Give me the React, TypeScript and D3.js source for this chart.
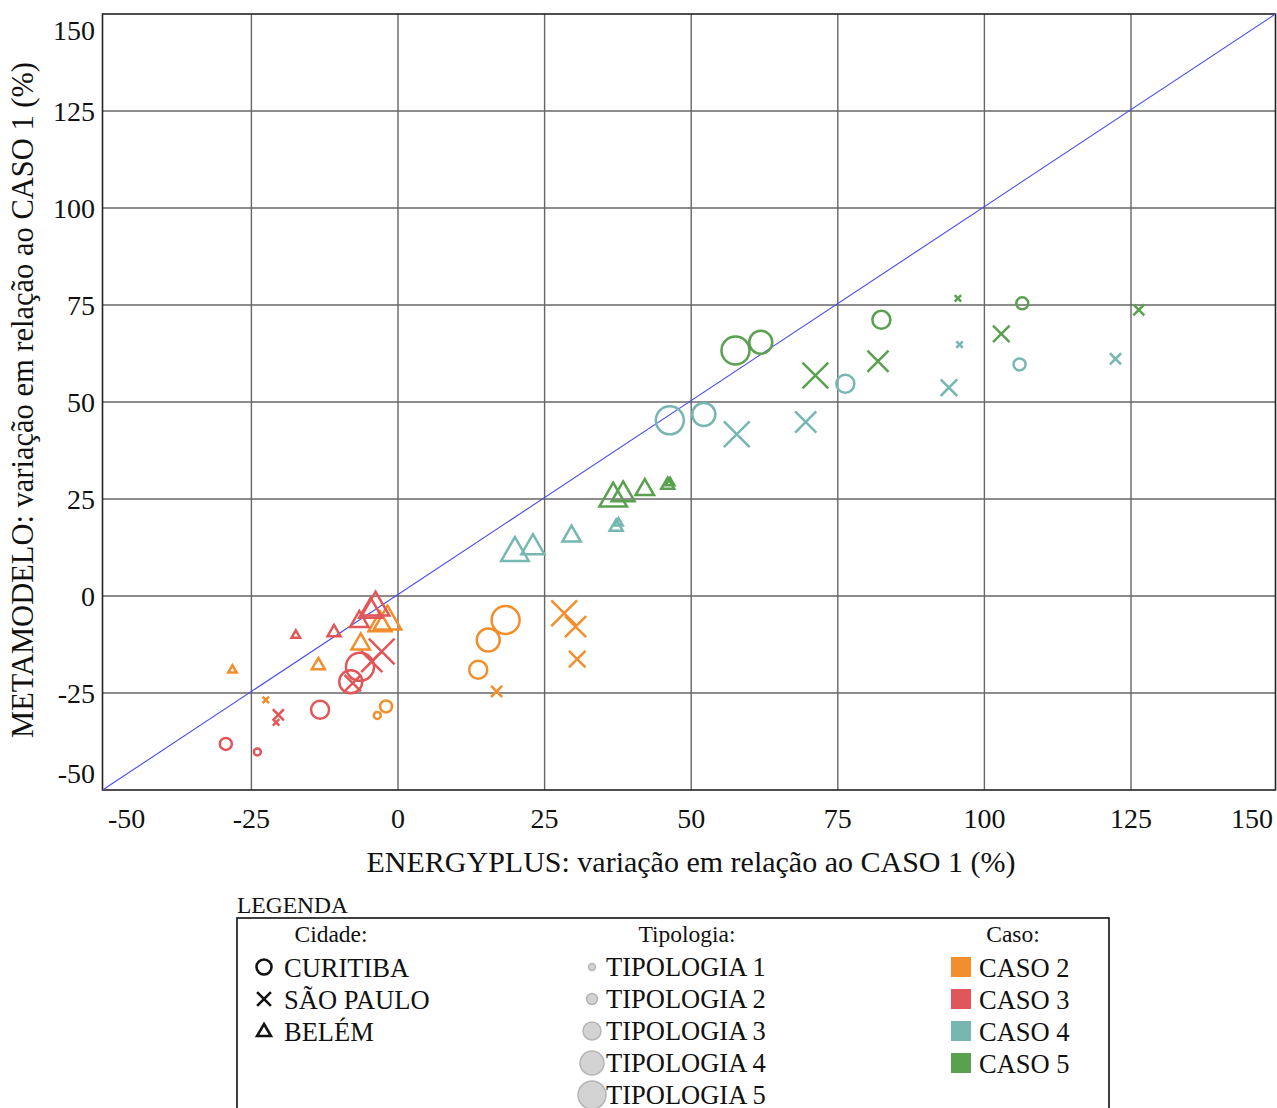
import React from "react";
import * as d3 from "d3";

const cities = ["CURITIBA", "SÃO PAULO", "BELÉM"];
const cityShapes = ["circle", "cross", "triangle"];
const tipologias = ["TIPOLOGIA 1", "TIPOLOGIA 2", "TIPOLOGIA 3", "TIPOLOGIA 4", "TIPOLOGIA 5"];
const casos = ["CASO 2", "CASO 3", "CASO 4", "CASO 5"];
const casoColors = ["#f28e2b", "#e15759", "#76b7b2", "#59a14f"];
const xTicks = [-50, -25, 0, 25, 50, 75, 100, 125, 150];
const yTicks = [-50, -25, 0, 25, 50, 75, 100, 125, 150];

// [caso index, city index, tipologia index, energyplus x, metamodelo y]
const caso2: [number, number, number, number, number][] = [
  [0, 0, 4, 18.35, -6.17], [0, 0, 3, 15.39, -11.32], [0, 0, 2, 13.68, -19.03], [0, 0, 1, -2.04, -28.47], [0, 0, 0, -3.53, -30.79],
  [0, 1, 4, 28.34, -4.45], [0, 1, 3, 30.28, -7.9], [0, 1, 2, 30.56, -16.28], [0, 1, 1, 16.82, -24.61], [0, 1, 0, -22.55, -26.75],
  [0, 2, 4, -1.79, -6.6], [0, 2, 3, -3.07, -7.4], [0, 2, 2, -6.36, -12.4], [0, 2, 1, -13.58, -17.9], [0, 2, 0, -28.24, -19.1],
];
const caso3: [number, number, number, number, number][] = [
  [1, 0, 4, -6.48, -18.26], [1, 0, 3, -8.06, -22.12], [1, 0, 2, -13.29, -29.32], [1, 0, 1, -29.36, -38.14], [1, 0, 0, -23.98, -40.2],
  [1, 1, 4, -2.78, -14.33], [1, 1, 3, -4.48, -16.9], [1, 1, 2, -7.72, -22.45], [1, 1, 1, -20.4, -30.61], [1, 1, 0, -20.79, -32.59],
  [1, 2, 4, -3.83, -3.0], [1, 2, 3, -4.65, -3.9], [1, 2, 2, -6.6, -6.6], [1, 2, 1, -10.91, -9.4], [1, 2, 0, -17.43, -10.1],
];
const caso4: [number, number, number, number, number][] = [
  [2, 0, 4, 46.35, 45.27], [2, 0, 3, 52.15, 46.81], [2, 0, 2, 76.29, 54.71], [2, 0, 1, 106.0, 59.67],
  [2, 1, 4, 57.77, 41.67], [2, 1, 3, 69.53, 44.83], [2, 1, 2, 93.95, 53.68], [2, 1, 1, 122.36, 61.14], [2, 1, 0, 95.77, 64.81],
  [2, 2, 4, 19.94, 11.1], [2, 2, 3, 23.0, 12.5], [2, 2, 2, 29.6, 15.4], [2, 2, 1, 37.2, 17.8], [2, 2, 0, 37.6, 18.8],
];
const caso5: [number, number, number, number, number][] = [
  [3, 0, 4, 57.55, 63.27], [3, 0, 3, 61.86, 65.41], [3, 0, 2, 82.43, 71.17], [3, 0, 1, 106.46, 75.44],
  [3, 1, 4, 71.18, 56.84], [3, 1, 3, 81.85, 60.52], [3, 1, 2, 102.88, 67.57], [3, 1, 1, 126.33, 73.74], [3, 1, 0, 95.48, 76.72],
  [3, 2, 4, 36.69, 25.1], [3, 2, 3, 38.39, 26.1], [3, 2, 2, 42.09, 27.4], [3, 2, 1, 46.0, 28.6], [3, 2, 0, 46.4, 29.2],
];

const points = [...caso2, ...caso3, ...caso4, ...caso5];

const W = 1277;
const H = 1108;
const FONT = "'Liberation Serif', 'Times New Roman', serif";

const LEFT = 102.5;
const RIGHT = 1275.5;
const TOP = 14;
const BOTTOM = 790;
const x = d3.scaleLinear().domain([0, 125]).range([398, 1131]);
const y = d3.scaleLinear().domain([-50, 150]).range([BOTTOM, TOP]);
const rScale = d3.scaleOrdinal<number, number>().domain([0, 1, 2, 3, 4]).range([3.5, 6, 9, 11.5, 14]);

function Marker({ shape, r, color, sw = 2.5, cx, cy }: { shape: string; r: number; color: string; sw?: number; cx: number; cy: number }) {
  if (shape === "circle") {
    return <circle cx={cx} cy={cy} r={r} fill="none" stroke={color} strokeWidth={sw} />;
  }
  if (shape === "cross") {
    const h = r * 0.92;
    return (
      <path
        d={`M${cx - h},${cy - h}L${cx + h},${cy + h}M${cx - h},${cy + h}L${cx + h},${cy - h}`}
        fill="none"
        stroke={color}
        strokeWidth={sw}
      />
    );
  }
  const R = r * 1.05 + 1.2;
  const s = Math.sin(Math.PI / 3);
  return (
    <path
      d={`M${cx},${cy - R}L${cx + R * s},${cy + R / 2}L${cx - R * s},${cy + R / 2}Z`}
      fill="none"
      stroke={color}
      strokeWidth={sw}
      strokeLinejoin="miter"
    />
  );
}

export default function App() {
  const rowY = [967, 999, 1031, 1063, 1095];
  return (
    <svg
      width={W}
      height={H}
      style={{ position: "absolute", left: 0, top: 0, background: "#fff" }}
      fontFamily={FONT}
    >
      <defs>
        <clipPath id="plotclip">
          <rect x={LEFT} y={TOP} width={RIGHT - LEFT} height={BOTTOM - TOP} />
        </clipPath>
      </defs>
      {/* grid */}
      {xTicks.slice(1, -1).map((t) => (
        <line key={"gx" + t} x1={x(t)} x2={x(t)} y1={BOTTOM} y2={TOP} stroke="#666" strokeWidth={1.4} />
      ))}
      {yTicks.slice(1, -1).map((t) => (
        <line key={"gy" + t} x1={LEFT} x2={RIGHT} y1={y(t)} y2={y(t)} stroke="#666" strokeWidth={1.4} />
      ))}
      <rect x={LEFT} y={TOP} width={RIGHT - LEFT} height={BOTTOM - TOP} fill="none" stroke="#222" strokeWidth={1.6} />
      {/* diagonal */}
      <line x1={LEFT} y1={BOTTOM} x2={RIGHT} y2={TOP} stroke="#4a4aee" strokeWidth={1.1} />

      {/* points */}
      <g clipPath="url(#plotclip)">
        {points.map((p, i) => (
          <Marker
            key={i}
            shape={cityShapes[p[1]]}
            r={rScale(p[2])}
            color={casoColors[p[0]]}
            cx={x(p[3])}
            cy={y(p[4])}
          />
        ))}
      </g>

      {/* x tick labels */}
      {xTicks.map((t, i) => {
        const first = i === 0;
        const last = i === xTicks.length - 1;
        return (
          <text
            key={"xt" + t}
            x={first ? 108 : last ? 1273 : x(t)}
            y={828}
            textAnchor={first ? "start" : last ? "end" : "middle"}
            fontSize={28}
            fill="#111"
          >
            {t}
          </text>
        );
      })}
      {/* y tick labels */}
      {yTicks.map((t, i) => {
        const first = i === 0;
        const last = i === yTicks.length - 1;
        const cy = first ? 773 : last ? 30 : y(t);
        return (
          <text key={"yt" + t} x={95} y={cy + 9.5} textAnchor="end" fontSize={28} fill="#111">
            {t}
          </text>
        );
      })}
      {/* axis titles */}
      <text x={691} y={872} textAnchor="middle" fontSize={30} fill="#111">
        ENERGYPLUS: variação em relação ao CASO 1 (%)
      </text>
      <text transform={`translate(33,400) rotate(-90)`} textAnchor="middle" fontSize={30.5} fill="#111">
        METAMODELO: variação em relação ao CASO 1 (%)
      </text>

      {/* legend */}
      <text x={237} y={913} fontSize={23.5} fill="#111">LEGENDA</text>
      <rect x={237} y={918} width={872} height={220} fill="none" stroke="#111" strokeWidth={1.6} />
      <text x={331} y={942} textAnchor="middle" fontSize={23.5} fill="#111">Cidade:</text>
      <text x={687} y={942} textAnchor="middle" fontSize={23.5} fill="#111">Tipologia:</text>
      <text x={1013} y={942} textAnchor="middle" fontSize={23.5} fill="#111">Caso:</text>

      {cities.map((c, i) => (
        <g key={c}>
          <Marker shape={cityShapes[i]} r={i === 2 ? 6.5 : 7.5} color="#111" sw={2.6} cx={264} cy={rowY[i] + (i === 2 ? 1 : 0)} />
          <text x={284} y={rowY[i] + 9.5} fontSize={26.5} fill="#111">{c}</text>
        </g>
      ))}
      {tipologias.map((t, i) => (
        <g key={t}>
          <circle cx={592} cy={rowY[i]} r={[3.5, 5.5, 9, 12, 14][i]} fill="#d3d3d3" stroke="#b5b5b5" strokeWidth={1.5} />
          <text x={606} y={rowY[i] + 9} fontSize={26.5} fill="#111">{t}</text>
        </g>
      ))}
      {casos.map((c, i) => (
        <g key={c}>
          <rect x={951} y={rowY[i] - 10} width={20} height={20} fill={casoColors[i]} />
          <text x={979} y={rowY[i] + 9.5} fontSize={26.5} fill="#111">{c}</text>
        </g>
      ))}
    </svg>
  );
}
